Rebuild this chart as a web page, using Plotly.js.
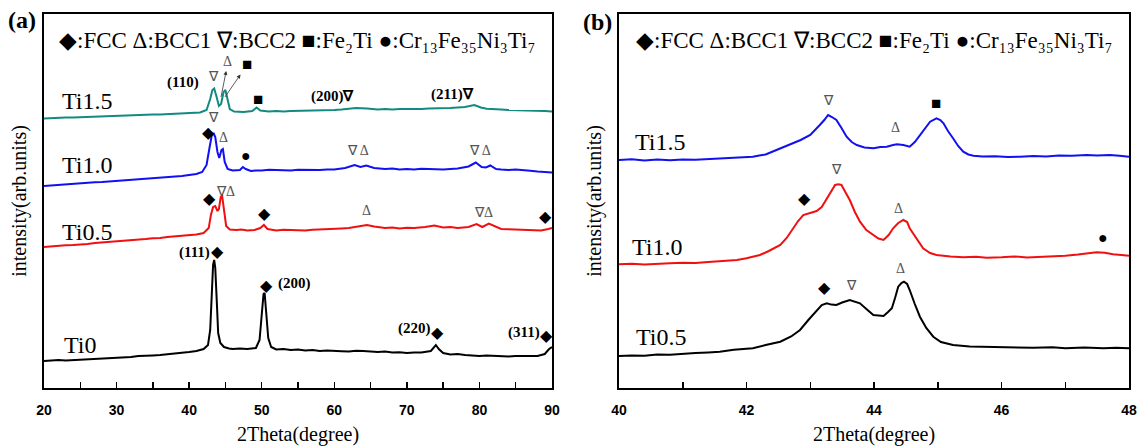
<!DOCTYPE html>
<html>
<head>
<meta charset="utf-8">
<script src="https://cdn.plot.ly/plotly-3.0.1.min.js"></script>
<style>html,body{margin:0;padding:0;background:#fff}#chart{width:1142px;height:446px}</style>
</head>
<body>
<div id="chart"></div>
<script>
// ---------- Panel (a): full scan 20-90 deg (stacked intensity, arb. units) ----------
const a_ti0_x = [20,21,22,23,24,25,26,27,28,29,30,31,32,33,34,35,36,37,38,39,40,41,42,42.6,42.9,43.1,43.3,43.45,43.6,43.8,44.0,44.3,44.8,45.5,46,47,48,49.2,49.7,50.0,50.25,50.4,50.6,50.9,51.3,52,53,54,55,56,57,58,59,60,61,62,63,64,65,66,67,68,69,70,71,72,73.3,73.7,74.0,74.4,75,76,77,78,79,80,81,82,83,84,85,86,87,88,89,89.6,90];
const a_ti0_y = [27,27.6,28,27.4,27.8,28.6,29,28.7,29.5,30.2,30,30.8,31,31.9,32,32.6,33,34,34.5,35.3,36,37,39,43,58,93,123,128,120,88,55,45,41,39.6,39,39.4,39,40,48,73,94,95,78,50,41,38.5,38.9,38,38.4,37.5,37.9,37,37.6,37.5,36.8,36.5,37.2,37,36.3,36,36.4,35.5,35.8,35,35.6,35.5,37,41,43,39,35,33.5,33.9,33,32.4,32,32.5,32,31.3,31.5,32.1,32,31.4,32,34,39,41];

const a_ti05_x = [20,21,22,23,24,25,26,27,28,29,30,31,32,33,34,35,36,37,38,39,40,41,42,42.7,43.0,43.3,43.6,43.9,44.1,44.35,44.55,44.8,45.1,45.6,46.5,47.2,48,49,49.8,50.3,50.8,51.4,52,53,54,55,56,57,58,59,60,61,62,63.5,64.5,65.5,66.2,67,68,69,70,71,72.5,73.8,75,76,77,78.5,79.6,80.4,81.3,82,83,84,85,86,87,88.5,89.5,90];
const a_ti05_y = [141,141.7,142,142.8,143,143.4,144,145,145.5,145.9,146.5,147.4,148,148.3,149,149.8,150,151,151.5,152,153,153.5,155,160,173,181,182,177,179,191,192,178,162,158.5,158,158.6,157.5,158,160,163,159,158.3,157.5,158.2,158,157.4,157.5,158.2,158.5,158.3,159,159.6,160,162,163,161.5,160.7,160,160.4,159.5,160.3,160,161,162.5,160.5,160.9,160,161,164,161,164.5,162,159,158.8,158.5,158.9,158,157.5,159,160];

const a_ti10_x = [20,21,22,23,24,25,26,27,28,29,30,31,32,33,34,35,36,37,38,39,40,41,41.8,42.4,42.8,43.1,43.35,43.6,43.9,44.15,44.45,44.65,44.9,45.3,46,47,47.4,47.8,48.5,49.2,50,51,52,53,54,55,56,57,58,59,60,61.5,62.8,63.6,64.4,65.5,66.2,67,68,69,70,71,72,73,74,75,76,77,78.5,79.5,80.3,80.9,81.5,82.3,83,84,85,86,87,88,89,90];
const a_ti10_y = [202,202.6,203,203.7,204,204.4,205,205.8,206,206.5,207,207.7,208,208.4,209,209.8,210,210.6,211.5,212,213,214,216,223,240,252,255,251,236,230,238,239,226,219,217.5,218,221,219,217,217.6,217.5,218.2,218,217.4,217.5,218.3,218,217.6,218,218.6,218.5,220,223,221,222.5,220,219.4,219,219.6,218.5,218.9,218.5,219.2,219,218.3,218.5,219.1,219.5,221.5,225.5,221,220.5,222.5,219,218.5,218,218.4,217.5,217.2,216.5,216.2,215.5];

const a_ti15_x = [20,21,22,23,24,25,26,27,28,29,30,31,32,33,34,35,36,37,38,39,40,41.5,42.4,42.9,43.2,43.45,43.75,44.1,44.4,44.75,45.0,45.3,45.6,46.2,47.5,48.7,49.3,49.8,51,52,53,54,55,56,57,58,59,60,61,62,63,64.5,65.2,66,67,68,69,70,71,72,73,74,75,76,77,78,79.3,80.2,81,82,83,84,85,86,87,88,89,90];
const a_ti15_y = [269.5,270.1,270,270.6,270.5,270.8,271,271.6,271.5,271.8,272,272.6,272.5,272.7,273,273.6,273.5,273.8,274,274.6,274.5,275.5,278,289,298,299.5,292,282,284,296,298,289,279,276.5,276,277,280.5,277.5,276.5,277.1,276.5,276.9,277,277.6,277.5,277.2,277.5,278.1,278.5,279.2,280,279.5,278.8,278.5,279,278.5,279.1,279,278.6,279,279.5,279.5,279.9,280,280.6,281,283,280.5,279.2,278.5,278.4,278,277.9,277.5,277.4,277,276.9,276.5];

// ---------- Panel (b): zoom 40-48 deg ----------
const b_ti15_x = [40.0,40.2,40.4,40.6,40.8,41.0,41.2,41.4,41.58,41.8,42.0,42.1,42.2,42.3,42.47,42.6,42.73,42.85,43.0,43.08,43.15,43.22,43.28,43.34,43.41,43.49,43.57,43.65,43.73,43.85,43.99,44.1,44.2,44.3,44.36,44.46,44.56,44.64,44.72,44.8,44.88,44.98,45.04,45.09,45.16,45.24,45.32,45.4,45.48,45.56,45.7,45.9,46.1,46.29,46.5,46.7,46.9,47.1,47.34,47.5,47.7,47.85,48.0];
const b_ti15_y = [228,228.7,227.6,228.4,227.8,228.6,228.2,229.0,229.7,230.3,231.0,231.3,232.6,233.5,238,241.5,244.7,248,253,258,263,268,273,271,268,260,251.3,246,243,240.5,239.7,241,241.3,243,243.7,243,241.3,246,253,260,266.3,269.7,268,264.7,257,249.7,242,236.3,233.5,232.3,231.4,231.8,231,231.3,232,231.6,232.5,232.2,233,232.4,233.1,232.2,231.3];

const b_ti10_x = [40.0,40.2,40.4,40.6,40.8,41.0,41.2,41.4,41.6,41.85,42.0,42.21,42.35,42.53,42.63,42.73,42.81,42.89,43.0,43.1,43.18,43.26,43.33,43.39,43.44,43.49,43.55,43.62,43.7,43.78,43.88,43.99,44.07,44.15,44.23,44.3,44.38,44.46,44.52,44.56,44.66,44.77,44.88,44.98,45.2,45.4,45.6,45.77,46.0,46.2,46.4,46.6,46.81,47.0,47.2,47.35,47.49,47.62,47.75,47.88,48.0];
const b_ti10_y = [123.7,124.3,123.6,124.5,124.8,125.2,125.0,126.0,126.8,128,129.8,133,137,143,150,159.7,167,173,175.3,177,181,189.7,197,203,203.7,203,196,188,176,166.3,158,153,149.5,148,153,159.7,165,168,166,159.7,150,139.7,135,133,131.5,130.8,131.2,130.3,130.8,131.6,130.6,131.0,131.3,132.3,133.4,134.6,135.7,135.2,133.7,133.0,132.3];

const b_ti05_x = [40.0,40.2,40.4,40.6,40.8,41.0,41.2,41.4,41.58,41.8,42.0,42.1,42.3,42.53,42.7,42.84,42.97,43.1,43.18,43.26,43.33,43.41,43.5,43.62,43.7,43.78,43.88,43.99,44.07,44.15,44.22,44.28,44.33,44.38,44.43,44.47,44.52,44.56,44.64,44.72,44.82,44.93,45.05,45.24,45.5,45.8,46.0,46.29,46.5,46.8,47.0,47.3,47.6,47.8,48.0];
const b_ti05_y = [32,32.6,32.3,33.4,33.2,34.3,34.9,35.6,36.3,38.2,39.0,39.7,43.0,46.3,51.5,58,68,78,83,84.7,83.4,83,85.5,88,86.5,84.7,79,73,72.5,72,76,79.7,90,101.3,105,106.3,104,98,84,71.3,60,51.3,46,43,41.5,41.2,40.5,40.7,40.2,40.8,39.8,40.4,39.7,40.3,39.7];

const legendText = '◆:FCC Δ:BCC1 ∇:BCC2 ■:Fe₂Ti ●:Cr₁₃Fe₃₅Ni₃Ti₇';

const TEAL = '#14897f', BLUE = '#1010f0', RED = '#f01010', BLACK = '#000000';
const SERIF = 'Liberation Serif, Times New Roman, serif';
const SANS = 'Liberation Sans, Arial, sans-serif';

function line(x, y, color, xa, ya) {
  return {x: x, y: y, type: 'scatter', mode: 'lines', xaxis: xa, yaxis: ya,
          line: {color: color, width: 2}, hoverinfo: 'skip'};
}

const data = [
  line(a_ti0_x, a_ti0_y, BLACK, 'x', 'y'),
  line(a_ti05_x, a_ti05_y, RED, 'x', 'y'),
  line(a_ti10_x, a_ti10_y, BLUE, 'x', 'y'),
  line(a_ti15_x, a_ti15_y, TEAL, 'x', 'y'),
  line(b_ti05_x, b_ti05_y, BLACK, 'x2', 'y2'),
  line(b_ti10_x, b_ti10_y, RED, 'x2', 'y2'),
  line(b_ti15_x, b_ti15_y, BLUE, 'x2', 'y2')
];

const ann = [];
function t(x, y, text, opts) {
  opts = opts || {};
  ann.push({x: x, y: y, xref: opts.xref || 'x', yref: opts.yref || 'y', text: text,
    showarrow: false, xanchor: opts.xanchor || 'center', yanchor: 'middle',
    font: {family: opts.family || SERIF, size: opts.size || 14, color: opts.color || '#000', weight: opts.weight || 'normal'}});
}
const GRAY = '#555';
// panel (a) phase marks
t(39.15, 305, '(110)', {size: 15, weight: 'bold'});
t(43.29, 311, '∇', {size: 14, color: GRAY});
t(49.49, 288, '■', {size: 17});
t(59.82, 291, '(200)∇', {size: 15, weight: 'bold'});
t(76.32, 293, '(211)∇', {size: 15, weight: 'bold'});
t(43.29, 270, '∇', {size: 14, color: GRAY});
t(42.6, 256, '◆', {size: 16});
t(44.8, 251, 'Δ', {size: 14, color: GRAY});
t(47.77, 233, '●', {size: 16});
t(63.27, 238, '∇ Δ', {size: 14, color: GRAY});
t(80.08, 238, '∇ Δ', {size: 14, color: GRAY});
t(42.74, 190, '◆', {size: 16});
t(45.01, 197, '∇Δ', {size: 14, color: GRAY});
t(50.41, 175, '◆', {size: 16});
t(64.44, 178, 'Δ', {size: 14, color: GRAY});
t(80.58, 176, '∇Δ', {size: 14, color: GRAY});
t(89.1, 172, '◆', {size: 16});
t(40.67, 136, '(111)', {size: 15, weight: 'bold'});
t(43.84, 137, '◆', {size: 16});
t(50.69, 103, '◆', {size: 16});
t(54.52, 105, '(200)', {size: 15, weight: 'bold'});
t(71.05, 60, '(220)', {size: 15, weight: 'bold'});
t(74.29, 56, '◆', {size: 16});
t(86.09, 56, '(311)', {size: 15, weight: 'bold'});
t(89.31, 53, '◆', {size: 16});
// labels with arrows pointing from the peak to the mark (a)
ann.push({x: 44.39, y: 291, xref: 'x', yref: 'y', ax: 45.35, ay: 326, axref: 'x', ayref: 'y', text: 'Δ',
  showarrow: true, arrowside: 'start', arrowhead: 2, startarrowhead: 2, arrowsize: 1, arrowwidth: 0.8, arrowcolor: '#333',
  font: {family: SERIF, size: 14, color: GRAY}});
ann.push({x: 44.94, y: 291, xref: 'x', yref: 'y', ax: 47.97, ay: 323, axref: 'x', ayref: 'y', text: '■',
  showarrow: true, arrowside: 'start', arrowhead: 2, startarrowhead: 2, arrowsize: 1, arrowwidth: 0.8, arrowcolor: '#333',
  font: {family: SERIF, size: 17, color: '#000'}});
// sample labels (a)
t(22.2, 287, 'Ti1.5', {size: 24, xanchor: 'left'});
t(22.2, 223, 'Ti1.0', {size: 24, xanchor: 'left'});
t(22.2, 156, 'Ti0.5', {size: 24, xanchor: 'left'});
t(22.5, 43, 'Ti0', {size: 24, xanchor: 'left'});

// panel (b) phase marks
t(43.28, 287, '∇', {xref: 'x2', yref: 'y2', size: 14, color: GRAY});
t(44.33, 260, 'Δ', {xref: 'x2', yref: 'y2', size: 14, color: GRAY});
t(44.98, 284, '■', {xref: 'x2', yref: 'y2', size: 17});
t(42.91, 190, '◆', {xref: 'x2', yref: 'y2', size: 16});
t(43.41, 219, '∇', {xref: 'x2', yref: 'y2', size: 14, color: GRAY});
t(44.39, 180, 'Δ', {xref: 'x2', yref: 'y2', size: 14, color: GRAY});
t(47.59, 151, '●', {xref: 'x2', yref: 'y2', size: 16});
t(43.22, 101, '◆', {xref: 'x2', yref: 'y2', size: 16});
t(43.65, 103, '∇', {xref: 'x2', yref: 'y2', size: 14, color: GRAY});
t(44.42, 120, 'Δ', {xref: 'x2', yref: 'y2', size: 14, color: GRAY});
t(40.22, 246, 'Ti1.5', {xref: 'x2', yref: 'y2', size: 24, xanchor: 'left'});
t(40.18, 141, 'Ti1.0', {xref: 'x2', yref: 'y2', size: 24, xanchor: 'left'});
t(40.24, 51, 'Ti0.5', {xref: 'x2', yref: 'y2', size: 24, xanchor: 'left'});

// legends and panel letters
t(0.260, 0.910, legendText, {xref: 'paper', yref: 'paper', size: 23});
t(0.765, 0.910, legendText, {xref: 'paper', yref: 'paper', size: 23});
t(0.0193, 0.955, '(a)', {xref: 'paper', yref: 'paper', size: 24, weight: 'bold'});
t(0.523, 0.951, '(b)', {xref: 'paper', yref: 'paper', size: 24, weight: 'bold'});

function xaxisDef(domain, range, t0, major, minor, anchor) {
  return {domain: domain, range: range, anchor: anchor, tickmode: 'linear', tick0: t0, dtick: major,
    ticks: 'inside', ticklen: 6, tickwidth: 1.5, tickcolor: '#000',
    minor: {tickmode: 'linear', tick0: t0, dtick: minor, ticks: 'inside', ticklen: 6, tickwidth: 1.5, tickcolor: '#000', showgrid: false},
    showline: true, linewidth: 2, linecolor: '#000', mirror: true,
    showgrid: false, zeroline: false, ticklabelstandoff: 8,
    tickfont: {family: SANS, size: 14, color: '#000', weight: 'bold'},
    title: {text: '2Theta(degree)', font: {family: SERIF, size: 20, color: '#000'}, standoff: 11}};
}
function yaxisDef(domain, anchor) {
  return {domain: domain, range: [0, 374], anchor: anchor, showticklabels: false, ticks: '',
    showline: true, linewidth: 2, linecolor: '#000', mirror: true, showgrid: false, zeroline: false,
    title: {text: 'intensity(arb.units)', font: {family: SERIF, size: 20, color: '#000'}, standoff: 10}};
}
const yd = [58/446, 432/446];
const layout = {
  width: 1142, height: 446, margin: {l: 0, r: 0, t: 0, b: 0},
  paper_bgcolor: '#fff', plot_bgcolor: '#fff', showlegend: false,
  xaxis: xaxisDef([44/1142, 552/1142], [20, 90], 20, 10, 5, 'y'),
  yaxis: yaxisDef(yd, 'x'),
  xaxis2: xaxisDef([619/1142, 1129/1142], [40, 48], 40, 2, 1, 'y2'),
  yaxis2: yaxisDef(yd, 'x2'),
  annotations: ann
};
Plotly.newPlot('chart', data, layout, {staticPlot: true, displayModeBar: false});
</script>
</body>
</html>
